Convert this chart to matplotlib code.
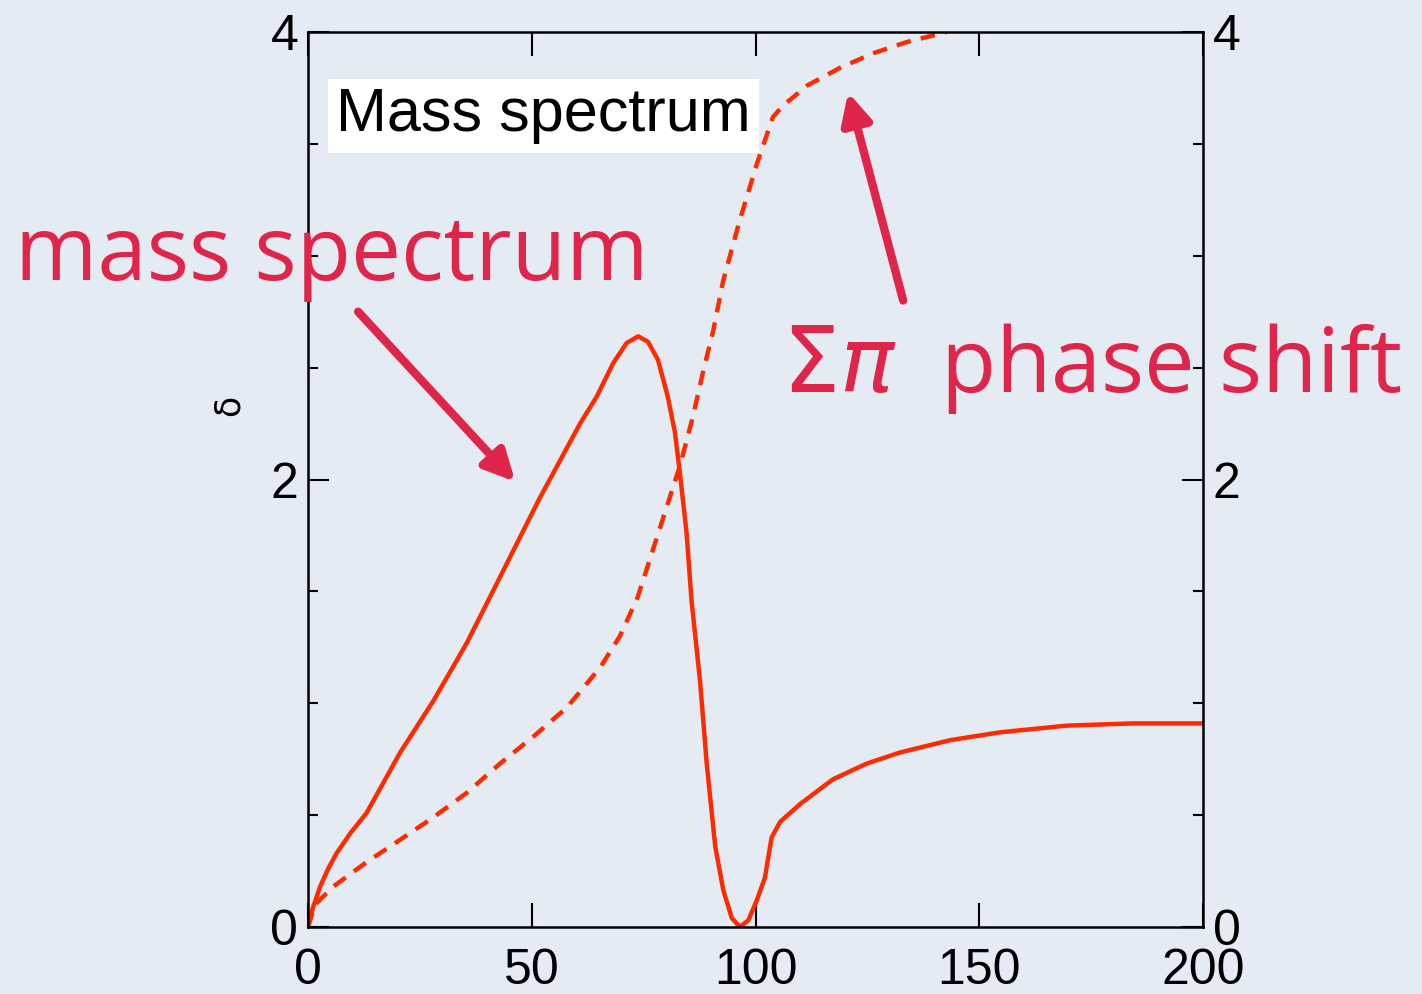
import numpy as np
import matplotlib
matplotlib.use("Agg")
import matplotlib.pyplot as plt
from matplotlib.ticker import MultipleLocator

# solid curve: mass spectrum
mass_x = [0, 1.0, 2.7, 4.5, 6.4, 9.5, 13.1, 20.6, 28, 35.5, 40.3, 51.6, 60.8, 64.5, 68.2, 71.2, 73.8,
          76, 78.2, 80.4, 82, 83.1, 84.6, 85.7, 87.6, 89.1, 91, 92.8, 94.7, 96.5, 98.4,
          100.3, 102.1, 103.6, 105.5, 110, 117.3, 124.8, 132.3, 143.5, 154.6, 169.5, 184.4, 200]
mass_y = [0, 0.08, 0.18, 0.26, 0.33, 0.42, 0.51, 0.78, 1.01, 1.27, 1.46, 1.91, 2.25, 2.37, 2.52, 2.61, 2.64,
          2.615, 2.535, 2.37, 2.21, 2.03, 1.76, 1.46, 1.10, 0.73, 0.36, 0.165, 0.04, 0.0, 0.03,
          0.12, 0.22, 0.40, 0.47, 0.55, 0.66, 0.73, 0.78, 0.835, 0.87, 0.90, 0.91, 0.91]

# dashed curve: Sigma-pi phase shift
phase_x = [0, 1.6, 5.6, 13.1, 20.6, 28, 35.5, 42.9, 50.3, 57.8, 65.3, 69.7, 73.6, 79.4,
           83.1, 86, 88.5, 90.5, 92.8, 96.5, 100.3, 103.9, 106.1, 111.5, 118.9, 126.3, 133.8, 142.7]
phase_y = [0, 0.1, 0.18, 0.29, 0.39, 0.49, 0.60, 0.73, 0.85, 0.98, 1.16, 1.30, 1.47, 1.83,
           2.06, 2.28, 2.50, 2.66, 2.89, 3.16, 3.41, 3.62, 3.67, 3.76, 3.84, 3.905, 3.955, 4.0]

x_ticks = [0, 50, 100, 150, 200]
y_ticks = [0, 2, 4]

bg = "#e5ebf3"
line_red = "#ff2a00"
note_red = "#e0254a"

plt.rcParams['mathtext.fontset'] = 'dejavusans'
fig = plt.figure(figsize=(14.22, 9.94), dpi=100, facecolor=bg)
ax = fig.add_axes([308 / 1422, 67 / 994, 895 / 1422, 895 / 994])
ax.set_facecolor(bg)

ax.plot(mass_x, mass_y, color=line_red, lw=3.2, solid_joinstyle='round')
ax.plot(phase_x, phase_y, color=line_red, lw=3.2, linestyle=(0, (3.3, 2.3)))

ax.set_xlim(0, 200)
ax.set_ylim(0, 4)
ax.set_xticks(x_ticks)
ax.set_yticks(y_ticks)
ax.yaxis.set_minor_locator(MultipleLocator(0.5))
for s in ax.spines.values():
    s.set_linewidth(1.8)
ax.tick_params(which='major', direction='in', length=15, width=1.5,
               top=True, right=True, labelright=True, labelsize=36, pad=7)
ax.tick_params(axis='x', which='major', length=17, pad=15)
ax.tick_params(which='minor', direction='in', length=7, width=1.5, left=True, right=True)
for lab in ax.get_xticklabels() + ax.get_yticklabels():
    lab.set_family('Liberation Sans')
ax.set_ylabel('δ', fontsize=25)
ax.yaxis.set_label_coords(-0.070, 0.583)

# boxed label inside the plot
ax.text(6.3, 3.625, 'Mass spectrum', fontsize=44, family='Liberation Sans',
        color='black', va='center', ha='left',
        bbox=dict(facecolor='white', edgecolor='none', pad=6))

# red annotations
ax.text(-65.5, 2.89, 'mass spectrum', fontsize=64, family='Open Sans', color=note_red,
        ha='left', va='baseline', clip_on=False)
ax.annotate('', xy=(46.3, 1.99), xytext=(11.2, 2.75),
            arrowprops=dict(arrowstyle='-|>', lw=6, color=note_red, mutation_scale=45,
                            shrinkA=0, shrinkB=0), annotation_clip=False)
ax.text(106.0, 2.39, r'$\Sigma\pi$  phase shift', fontsize=65, family='Open Sans', color=note_red,
        ha='left', va='baseline', clip_on=False)
ax.annotate('', xy=(120.7, 3.73), xytext=(133, 2.80),
            arrowprops=dict(arrowstyle='-|>', lw=6, color=note_red, mutation_scale=45,
                            shrinkA=0, shrinkB=0), annotation_clip=False)

fig.savefig('out.png', dpi=100, facecolor=bg)
